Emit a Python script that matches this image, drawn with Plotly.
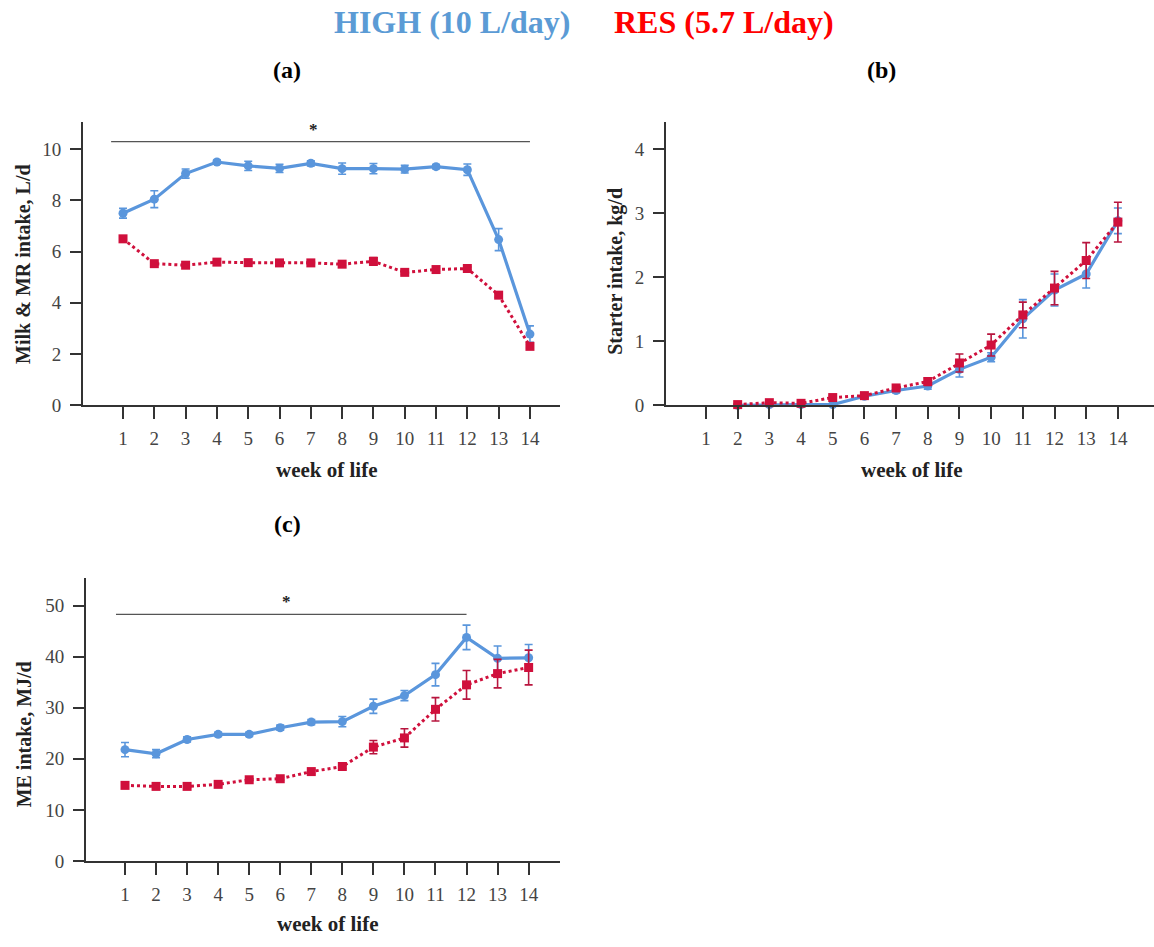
import plotly.graph_objects as go

# ---- data -------------------------------------------------------------
weeks = list(range(1, 15))
week_ticks = [str(w) for w in weeks]

# (a) milk & milk replacer intake, L/d
milk_high = [7.5, 8.05, 9.05, 9.5, 9.35, 9.25, 9.45, 9.24, 9.24, 9.22, 9.32, 9.2, 6.47, 2.78]
milk_high_se = [0.19, 0.33, 0.18, 0.08, 0.18, 0.16, 0.1, 0.22, 0.2, 0.15, 0.08, 0.22, 0.43, 0.32]
milk_res = [6.5, 5.53, 5.47, 5.59, 5.57, 5.56, 5.56, 5.51, 5.62, 5.19, 5.3, 5.34, 4.3, 2.3]
milk_res_se = [0.06, 0.05, 0.05, 0.05, 0.05, 0.05, 0.05, 0.05, 0.15, 0.08, 0.06, 0.06, 0.08, 0.06]

# (b) starter intake, kg/d (weeks 2-14)
starter_weeks = list(range(2, 15))
starter_high = [0.0, 0.01, 0.01, 0.01, 0.14, 0.23, 0.3, 0.56, 0.75, 1.35, 1.8, 2.05, 2.88]
starter_high_se = [0.01, 0.01, 0.01, 0.01, 0.02, 0.04, 0.05, 0.12, 0.07, 0.3, 0.25, 0.22, 0.2]
starter_res = [0.01, 0.04, 0.03, 0.12, 0.15, 0.27, 0.37, 0.66, 0.94, 1.41, 1.83, 2.26, 2.86]
starter_res_se = [0.01, 0.02, 0.02, 0.03, 0.03, 0.05, 0.06, 0.14, 0.17, 0.2, 0.26, 0.28, 0.31]

# (c) metabolisable energy intake, MJ/d
me_high = [21.8, 21.0, 23.8, 24.8, 24.8, 26.1, 27.2, 27.3, 30.3, 32.4, 36.5, 43.8, 39.7, 39.8]
me_high_se = [1.4, 0.8, 0.5, 0.4, 0.4, 0.5, 0.5, 1.0, 1.4, 1.0, 2.2, 2.4, 2.4, 2.6]
me_res = [14.8, 14.6, 14.6, 15.0, 15.9, 16.1, 17.5, 18.5, 22.3, 24.1, 29.7, 34.5, 36.7, 37.9]
me_res_se = [0.3, 0.3, 0.3, 0.3, 0.3, 0.3, 0.4, 0.4, 1.3, 1.8, 2.3, 2.8, 2.8, 3.4]

# significance bars: (start week, end week, height, asterisk week)
sig_a = (0.62, 14, 10.3, 7.1)
sig_c = (0.71, 12, 48.3, 6.2)

# ---- styling ------------------------------------------------------------
W, H = 1154, 947
BLUE = "#5a96dc"
BLUE_ERR = "#5a96dc"
RED = "#d0103c"
RED_ERR = "#b8153e"
AXIS = "#333333"
TICK_TXT = "#444444"
SERIF = "Liberation Serif"


def px_x(p):
    return p / W


def px_y(p):
    return 1 - p / H


fig = go.Figure()


def add_pair(xs_h, yh, eh, xs_r, yr, er, xa, ya):
    fig.add_trace(go.Scatter(
        x=xs_h, y=yh, xaxis=xa, yaxis=ya, mode="lines+markers",
        line=dict(color=BLUE, width=3.2),
        marker=dict(symbol="circle", size=9, color=BLUE),
        error_y=dict(type="data", array=eh, visible=True, color=BLUE_ERR,
                     thickness=1.6, width=4),
        showlegend=False, cliponaxis=False))
    fig.add_trace(go.Scatter(
        x=xs_r, y=yr, xaxis=xa, yaxis=ya, mode="lines+markers",
        line=dict(color=RED, width=3, dash="dot"),
        marker=dict(symbol="square", size=9, color=RED),
        error_y=dict(type="data", array=er, visible=True, color=RED_ERR,
                     thickness=1.6, width=4),
        showlegend=False, cliponaxis=False))


add_pair(weeks, milk_high, milk_high_se, weeks, milk_res, milk_res_se, "x", "y")
add_pair(starter_weeks, starter_high, starter_high_se,
         starter_weeks, starter_res, starter_res_se, "x2", "y2")
add_pair(weeks, me_high, me_high_se, weeks, me_res, me_res_se, "x3", "y3")


def xaxis(dom, rng, anchor):
    return dict(domain=[px_x(dom[0]), px_x(dom[1])], range=rng, anchor=anchor,
                tickmode="array", tickvals=weeks, ticktext=week_ticks,
                showgrid=False, zeroline=False, showline=True, linecolor=AXIS,
                linewidth=2, ticks="outside", ticklen=12, tickwidth=2,
                tickcolor=AXIS, ticklabelstandoff=3,
                tickfont=dict(family=SERIF, size=19, color=TICK_TXT))


def yaxis(dom, rng, dtick, anchor):
    return dict(domain=[px_y(dom[1]), px_y(dom[0])], range=rng, anchor=anchor,
                dtick=dtick, tick0=0, showgrid=False, zeroline=False,
                showline=True, linecolor=AXIS, linewidth=2, ticks="outside",
                ticklen=11, tickwidth=2, tickcolor=AXIS, ticklabelstandoff=5,
                tickfont=dict(family=SERIF, size=19, color=TICK_TXT))


fig.update_layout(
    width=W, height=H, margin=dict(l=0, r=0, t=0, b=0),
    paper_bgcolor="white", plot_bgcolor="white",
    xaxis=xaxis((83, 560), [-0.278, 14.96], "y"),
    yaxis=yaxis((123, 410), [0, 11.08], 2, "x"),
    xaxis2=xaxis((666, 1154), [-0.262, 15.14], "y2"),
    yaxis2=yaxis((123, 410), [0, 4.43], 1, "x2"),
    xaxis3=xaxis((86, 560), [-0.256, 15.01], "y3"),
    yaxis3=yaxis((585, 871), [0, 55.4], 10, "x3"),
)

# significance bars with asterisks
for (x0, x1, yv, xs), xa, ya in [(sig_a, "x", "y"), (sig_c, "x3", "y3")]:
    fig.add_shape(type="line", xref=xa, yref=ya, x0=x0, x1=x1, y0=yv, y1=yv,
                  line=dict(color="#555555", width=1.2))
    fig.add_annotation(x=xs, y=yv, xref=xa, yref=ya, text="<b>*</b>",
                       showarrow=False, yanchor="bottom", yshift=1,
                       font=dict(family=SERIF, size=17, color="#222222"))

ann = []
# header
ann.append(dict(x=px_x(452), y=px_y(22), text="<b>HIGH (10 L/day)</b>",
                font=dict(family=SERIF, size=32, color="#5b9bd5")))
ann.append(dict(x=px_x(724), y=px_y(22), text="<b>RES (5.7 L/day)</b>",
                font=dict(family=SERIF, size=32, color="#ff0000")))
# panel letters
for txt, xx, yy in [("(a)", 287, 71), ("(b)", 881, 71), ("(c)", 287, 530)]:
    ann.append(dict(x=px_x(xx), y=px_y(yy), text=f"<b>{txt}</b>",
                    font=dict(family=SERIF, size=24, color="black")))
# x-axis titles
for xx, yy in [(326, 476), (911, 476), (327, 935)]:
    ann.append(dict(x=px_x(xx), y=px_y(yy), text="<b>week of life</b>",
                    font=dict(family=SERIF, size=21, color="#222222")))
# y-axis titles
for txt, xx, yy in [("Milk & MR intake, L/d", 23, 268),
                    ("Starter intake, kg/d", 616, 275),
                    ("ME intake, MJ/d", 24, 743)]:
    ann.append(dict(x=px_x(xx), y=px_y(yy), text=f"<b>{txt}</b>", textangle=-90,
                    font=dict(family=SERIF, size=20, color="#222222")))

for a in ann:
    a.update(xref="paper", yref="paper", showarrow=False,
             xanchor="center", yanchor="middle")
    fig.add_annotation(**a)

fig.write_html("out.html")
